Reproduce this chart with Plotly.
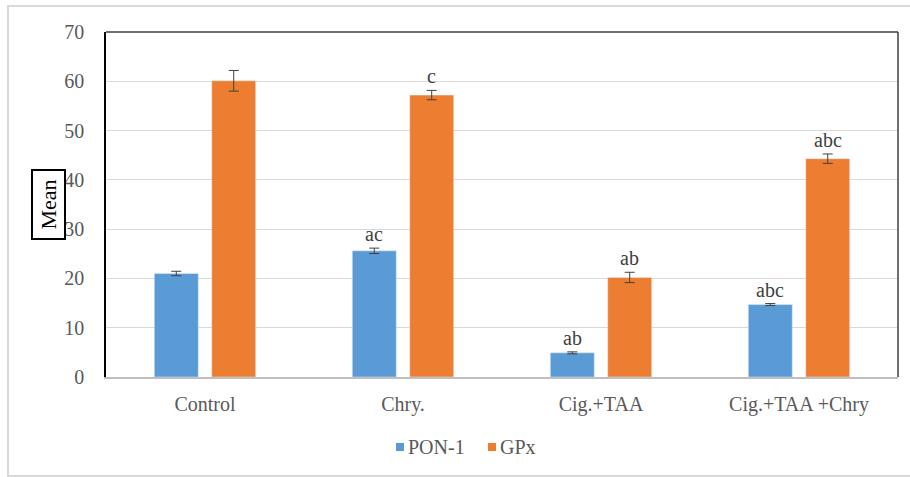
import plotly.graph_objects as go

categories = ["Control", "Chry.", "Cig.+TAA", "Cig.+TAA +Chry"]
pon1_mean = [21.0, 25.6, 4.9, 14.7]
pon1_err = [0.45, 0.55, 0.2, 0.2]
gpx_mean = [60.1, 57.2, 20.2, 44.3]
gpx_err = [2.1, 0.95, 1.05, 0.95]
pon1_labels = ["", "ac", "ab", "abc"]
gpx_labels = ["", "c", "ab", "abc"]
series_names = ["PON-1", "GPx"]

BLUE = "#5b9bd5"
ORANGE = "#ed7d31"
SERIF = "Liberation Serif, Times New Roman, serif"
BARGAP = 0.42
BARGROUPGAP = 0.234
FS = 20

# plot-area geometry in pixels, used to place paper-referenced decorations
W, H = 910, 477
ML, MR, MT, MB = 106, 12, 32, 100
PW, PH = W - ML - MR, H - MT - MB


def px_x(px):
    return (px - ML) / PW


def px_y(py):
    return (H - MB - py) / PH


x_idx = list(range(len(categories)))
slot = (1 - BARGAP) / 2
offset = slot / 2

err_style = dict(type="data", visible=True, color="#404040", thickness=1, width=5)

fig = go.Figure()
fig.add_trace(go.Bar(
    name=series_names[0], x=x_idx, y=pon1_mean, marker_color=BLUE,
    error_y=dict(array=pon1_err, **err_style),
))
fig.add_trace(go.Bar(
    name=series_names[1], x=x_idx, y=gpx_mean, marker_color=ORANGE,
    error_y=dict(array=gpx_err, **err_style),
))

# significance letters above the error bars
annotations = []
for i in x_idx:
    for lbl, m, e, dx in ((pon1_labels[i], pon1_mean[i], pon1_err[i], -offset),
                          (gpx_labels[i], gpx_mean[i], gpx_err[i], offset)):
        if lbl:
            annotations.append(dict(
                x=i + dx, y=m + e, xref="x", yref="y", text=lbl,
                showarrow=False, yanchor="bottom", yshift=1,
                font=dict(family=SERIF, size=FS, color="#404040"),
            ))

# boxed y-axis title
annotations.append(dict(
    x=px_x(48.5), y=px_y(204.5), xref="paper", yref="paper",
    text="&nbsp;Mean&nbsp;",
    textangle=-90, showarrow=False, xanchor="center", yanchor="middle",
    font=dict(family=SERIF, size=22, color="#000000"),
    bordercolor="#000000", borderwidth=2, borderpad=3, bgcolor="white",
))

shapes = [
    # outer chart border
    dict(type="rect", xref="paper", yref="paper", x0=px_x(8), x1=px_x(940),
         y0=px_y(476), y1=px_y(6), line=dict(color="#d9d9d9", width=2), layer="below"),
    # top and right frame of the plot area
    dict(type="line", xref="paper", yref="paper", x0=0, x1=1, y0=1, y1=1,
         line=dict(color="#404040", width=1.5)),
    dict(type="line", xref="paper", yref="paper", x0=1, x1=1, y0=0, y1=1,
         line=dict(color="#404040", width=1.5)),
]

# compact legend below the axis: small square swatch followed by the name
legend_items = [(series_names[0], BLUE, 396), (series_names[1], ORANGE, 488)]
for name, color, left in legend_items:
    shapes.append(dict(type="rect", xref="paper", yref="paper",
                       x0=px_x(left), x1=px_x(left + 8),
                       y0=px_y(451), y1=px_y(443),
                       fillcolor=color, line=dict(width=0)))
    annotations.append(dict(
        x=px_x(left + 10), y=px_y(447), xref="paper", yref="paper", text=name,
        showarrow=False, xanchor="left", yanchor="middle",
        font=dict(family=SERIF, size=FS, color="#595959"),
    ))

fig.update_layout(
    width=W, height=H,
    margin=dict(l=ML, r=MR, t=MT, b=MB),
    paper_bgcolor="white", plot_bgcolor="white",
    barmode="group", bargap=BARGAP, bargroupgap=BARGROUPGAP,
    font=dict(family=SERIF, size=FS, color="#595959"),
    showlegend=False,
    annotations=annotations,
    shapes=shapes,
    xaxis=dict(
        tickmode="array", tickvals=x_idx, ticktext=categories,
        range=[-0.5, len(categories) - 0.5],
        showline=True, linecolor="#bfbfbf", linewidth=1.5,
        showgrid=False, ticks="", ticklabelstandoff=8,
        tickfont=dict(family=SERIF, size=FS, color="#595959"),
    ),
    yaxis=dict(
        range=[0, 70], dtick=10,
        showline=True, linecolor="#000000", linewidth=1.5,
        showgrid=True, gridcolor="#d9d9d9", gridwidth=1,
        zeroline=False, ticks="", ticklabelstandoff=16,
        tickfont=dict(family=SERIF, size=FS, color="#595959"),
    ),
)

fig.write_html("out.html")
